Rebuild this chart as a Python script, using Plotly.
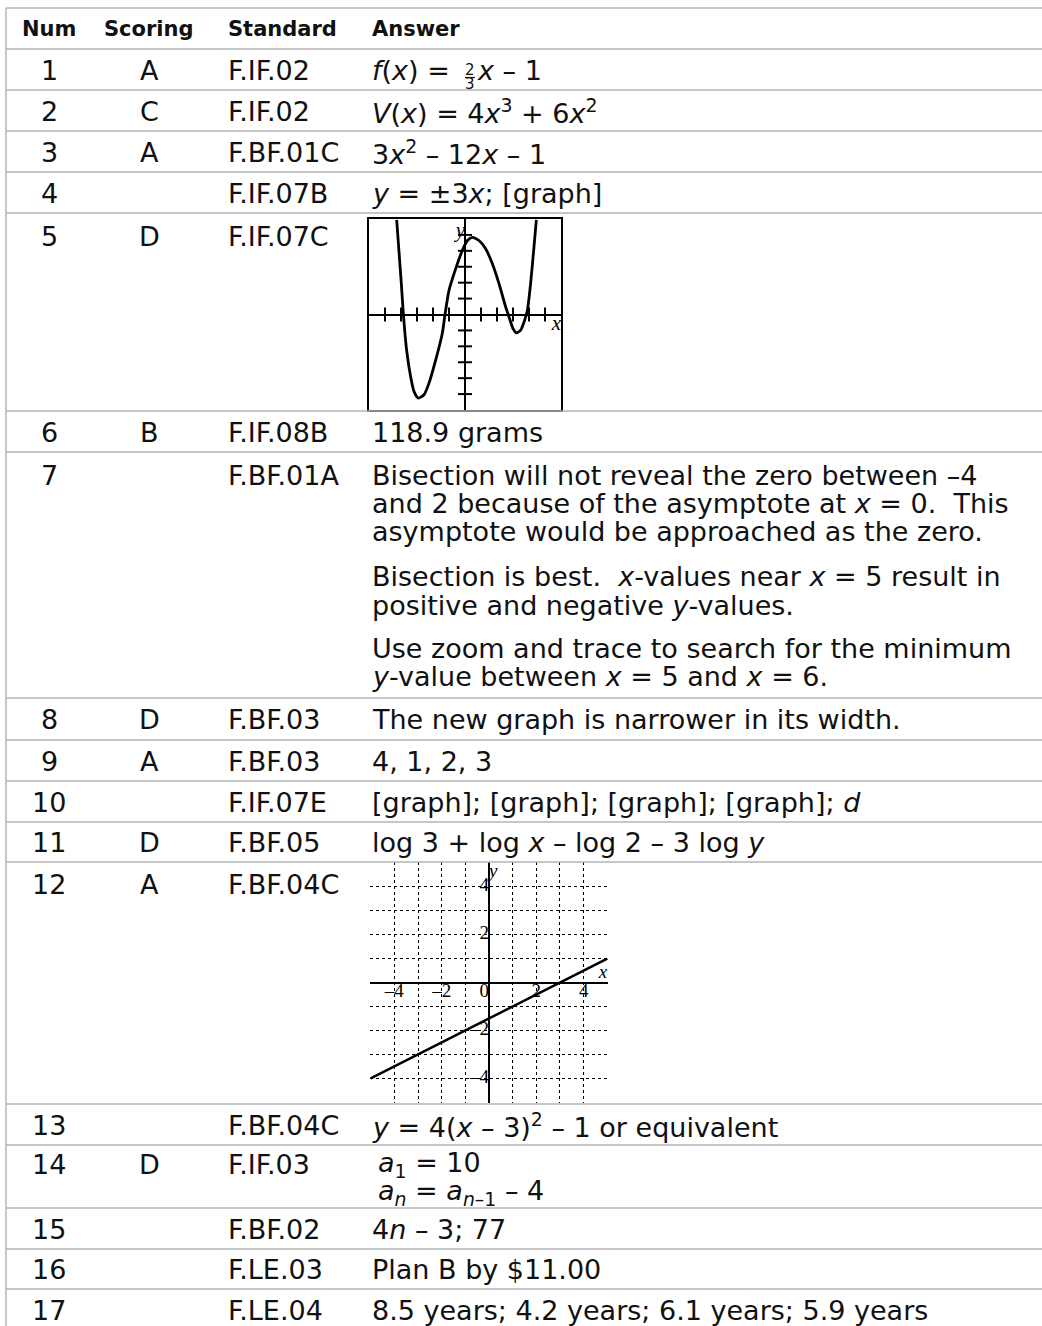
import plotly.graph_objects as go

# table content
nums = [str(i) for i in range(1, 18)]
scoring = ["A", "C", "A", "", "D", "B", "", "D", "A", "", "D", "A", "", "D", "", "", ""]
standards = ["F.IF.02", "F.IF.02", "F.BF.01C", "F.IF.07B", "F.IF.07C", "F.IF.08B", "F.BF.01A",
             "F.BF.03", "F.BF.03", "F.IF.07E", "F.BF.05", "F.BF.04C", "F.BF.04C", "F.IF.03",
             "F.BF.02", "F.LE.03", "F.LE.04"]
answers = {
    2: "<i>V</i>(<i>x</i>) = 4<i>x</i><sup>3</sup> + 6<i>x</i><sup>2</sup>",
    3: "3<i>x</i><sup>2</sup> – 12<i>x</i> – 1",
    4: "<i>y</i> = ±3<i>x</i>; [graph]",
    6: "118.9 grams",
    8: "The new graph is narrower in its width.",
    9: "4, 1, 2, 3",
    10: "[graph]; [graph]; [graph]; [graph]; <i>d</i>",
    11: "log 3 + log <i>x</i> – log 2 – 3 log <i>y</i>",
    13: "<i>y</i> = 4(<i>x</i> – 3)<sup>2</sup> – 1 or equivalent",
    15: "4<i>n</i> – 3; 77",
    16: "Plan B by $11.00",
    17: "8.5 years; 4.2 years; 6.1 years; 5.9 years",
}
answer7 = [
    "Bisection will not reveal the zero between –4",
    "and 2 because of the asymptote at <i>x</i> = 0.\u00a0 This",
    "asymptote would be approached as the zero.",
    "Bisection is best.\u00a0 <i>x</i>-values near <i>x</i> = 5 result in",
    "positive and negative <i>y</i>-values.",
    "Use zoom and trace to search for the minimum",
    "<i>y</i>-value between <i>x</i> = 5 and <i>x</i> = 6.",
]
answer14 = ["<i>a</i><sub>1</sub> = 10", "<i>a</i><sub><i>n</i></sub> = <i>a</i><sub><i>n</i>–1</sub> – 4"]

# graph in row 5
g5_x = [-4.27, -4.13, -3.98, -3.85, -3.65, -3.4, -3.19, -2.92, -2.56, -2.25, -1.83, -1.42, -1.25,
        -1.0, -0.58, -0.17, 0.15, 0.46, 0.875, 1.29, 1.71, 2.125, 2.54, 2.75, 3.0, 3.21, 3.48,
        3.73, 3.9, 4.1, 4.31, 4.46]
g5_y = [5.94, 4.02, 1.94, 0.0, -2.23, -3.9, -4.83, -5.25, -5.04, -4.31, -2.85, -1.19, 0.0,
        1.52, 2.88, 4.02, 4.65, 4.85, 4.65, 4.13, 3.19, 1.94, 0.48, -0.15, -0.88, -1.15, -0.98,
        -0.35, 0.27, 1.94, 4.23, 5.94]
g5_ticks = [-5, -4, -3, -2, -1, 1, 2, 3, 4, 5]

# graph in row 12
g12_x = [-5, 5]
g12_y = [-4, 1]
g12_xlabels = [-4, -2, 2, 4]
g12_ylabels = [4, 2, -2, -4]

W, H = 1042, 1326
row_edges = [8, 49, 90, 131, 172, 213, 411, 452, 698, 740, 781, 822, 862, 1104, 1145, 1208, 1249, 1289, 1330]
num_x, score_x, std_x, ans_x = 49, 149, 226, 370
FONT = "DejaVu Sans"
FS = 27
LINE = "#b4b4b4"
top_aligned = {5: 23, 7: 23, 12: 22, 14: 19}


def dx(px):
    return px / W


def dy(py):
    return 1 - py / H


fig = go.Figure()

shapes = [dict(type="line", xref="x", yref="y", x0=6, x1=6, y0=row_edges[0], y1=H,
               line=dict(color=LINE, width=1.5))]
for e in row_edges[:-1]:
    shapes.append(dict(type="line", xref="x", yref="y", x0=6, x1=W, y0=e, y1=e,
                       line=dict(color=LINE, width=1.5)))

ann = []


def txt(x, y, s, anchor="left", size=FS):
    ann.append(dict(x=x, y=y, xref="x", yref="y", text=s, showarrow=False, xanchor=anchor,
                    yanchor="middle", font=dict(family=FONT, size=size, color="#111")))


hy = 29
txt(num_x, hy, "<b>Num</b>", "center", 21)
txt(score_x, hy, "<b>Scoring</b>", "center", 21)
txt(std_x, hy, "<b>Standard</b>", "left", 21)
txt(ans_x, hy, "<b>Answer</b>", "left", 21)

for i in range(17):
    top, bot = row_edges[i + 1], row_edges[i + 2]
    cy = top + top_aligned[i + 1] if (i + 1) in top_aligned else (top + bot) / 2 + 0.5
    txt(num_x, cy, nums[i], "center")
    if scoring[i]:
        txt(score_x, cy, scoring[i], "center")
    txt(std_x, cy, standards[i], "left")
    if (i + 1) in answers:
        txt(ans_x, cy, answers[i + 1], "left")

# row 1 with stacked fraction
cy1 = (row_edges[1] + row_edges[2]) / 2 + 0.5
txt(ans_x, cy1, "<i>f</i>(<i>x</i>) =", "left")
fx = ans_x + 100
txt(fx, cy1, "2", "center", 15)
txt(fx, cy1 + 14, "3", "center", 15)
shapes.append(dict(type="line", xref="x", yref="y", x0=fx - 5, x1=fx + 5, y0=cy1 + 7.5, y1=cy1 + 7.5,
                   line=dict(color="#111", width=1.2)))
txt(fx + 5, cy1, "<i>x</i> – 1", "left")

# row 7 paragraphs
r7 = row_edges[7]
for line, off in zip(answer7, [23, 51, 79, 124, 153, 196, 224]):
    txt(ans_x, r7 + off, line, "left")

# row 14 two lines
r14 = row_edges[14]
txt(ans_x + 6, r14 + 19, answer14[0], "left")
txt(ans_x + 6, r14 + 47, answer14[1], "left")

# graph 5
fig.add_trace(go.Scatter(x=g5_x, y=g5_y, mode="lines", line=dict(color="black", width=2.8, shape="spline", smoothing=0.6),
                         xaxis="x2", yaxis="y2", hoverinfo="skip"))
fig.add_trace(go.Scatter(x=g5_ticks, y=[0] * len(g5_ticks), mode="markers", xaxis="x2", yaxis="y2",
                         marker=dict(symbol="line-ns", size=10, line=dict(color="black", width=2)), hoverinfo="skip"))
fig.add_trace(go.Scatter(x=[0] * len(g5_ticks), y=g5_ticks, mode="markers", xaxis="x2", yaxis="y2",
                         marker=dict(symbol="line-ew", size=10, line=dict(color="black", width=2)), hoverinfo="skip"))
fig.add_trace(go.Scatter(x=[0, 6], y=[5.2, 0], mode="text", xaxis="x2", yaxis="y2",
                         text=["<i>y</i>", "<i>x</i>"], textposition=["middle left", "bottom left"],
                         textfont=dict(family="Liberation Serif", size=21, color="black"), hoverinfo="skip"))

# graph 12
fig.add_trace(go.Scatter(x=g12_x, y=g12_y, mode="lines", line=dict(color="black", width=2.5),
                         xaxis="x3", yaxis="y3", hoverinfo="skip"))
fig.add_trace(go.Scatter(x=g12_xlabels, y=[0] * len(g12_xlabels), mode="text", xaxis="x3", yaxis="y3",
                         text=[str(v).replace("-", "–") for v in g12_xlabels], textposition="bottom center",
                         textfont=dict(family="Liberation Serif", size=19, color="black"), hoverinfo="skip"))
fig.add_trace(go.Scatter(x=[0] * len(g12_ylabels), y=g12_ylabels, mode="text", xaxis="x3", yaxis="y3",
                         text=[str(v).replace("-", "–") for v in g12_ylabels], textposition="middle left",
                         textfont=dict(family="Liberation Serif", size=19, color="black"), hoverinfo="skip"))
fig.add_trace(go.Scatter(x=[0, 0, 5], y=[0, 5, 0], mode="text", xaxis="x3", yaxis="y3",
                         text=["0", "<i>y</i>", "<i>x</i>"], textposition=["bottom left", "bottom right", "top left"],
                         textfont=dict(family="Liberation Serif", size=19, color="black"), hoverinfo="skip"))

hidden = dict(visible=False, showgrid=False, zeroline=False)
fig.update_layout(
    width=W, height=H, margin=dict(l=0, r=0, t=0, b=0),
    paper_bgcolor="white", plot_bgcolor="rgba(0,0,0,0)", showlegend=False,
    xaxis=dict(range=[0, W], domain=[0, 1], **hidden),
    yaxis=dict(range=[H, 0], domain=[0, 1], **hidden),
    xaxis2=dict(domain=[dx(369), dx(561)], range=[-6, 6], anchor="y2", showgrid=False, showticklabels=False,
                ticks="", zeroline=True, zerolinecolor="black", zerolinewidth=2,
                showline=True, mirror=True, linecolor="black", linewidth=2),
    yaxis2=dict(domain=[dy(410), dy(219)], range=[-6, 6], anchor="x2", showgrid=False,
                showticklabels=False, ticks="", zeroline=True, zerolinecolor="black", zerolinewidth=2,
                showline=True, mirror=True, linecolor="black", linewidth=2),
    xaxis3=dict(domain=[dx(370), dx(608)], range=[-5.03, 5.03], anchor="y3", showgrid=True, dtick=1, tick0=0,
                griddash="dot", gridcolor="black", gridwidth=1, showticklabels=False, ticks="",
                zeroline=True, zerolinecolor="black", zerolinewidth=2),
    yaxis3=dict(domain=[dy(1103), dy(862)], range=[-5.03, 5.03], anchor="x3", showgrid=True, dtick=1,
                tick0=0, griddash="dot", gridcolor="black", gridwidth=1, showticklabels=False, ticks="",
                zeroline=True, zerolinecolor="black", zerolinewidth=2),
    shapes=shapes, annotations=ann,
)

fig.write_html("out.html", config={"displayModeBar": False},
               post_script="document.body.style.margin='0';document.body.style.overflow='hidden';")
